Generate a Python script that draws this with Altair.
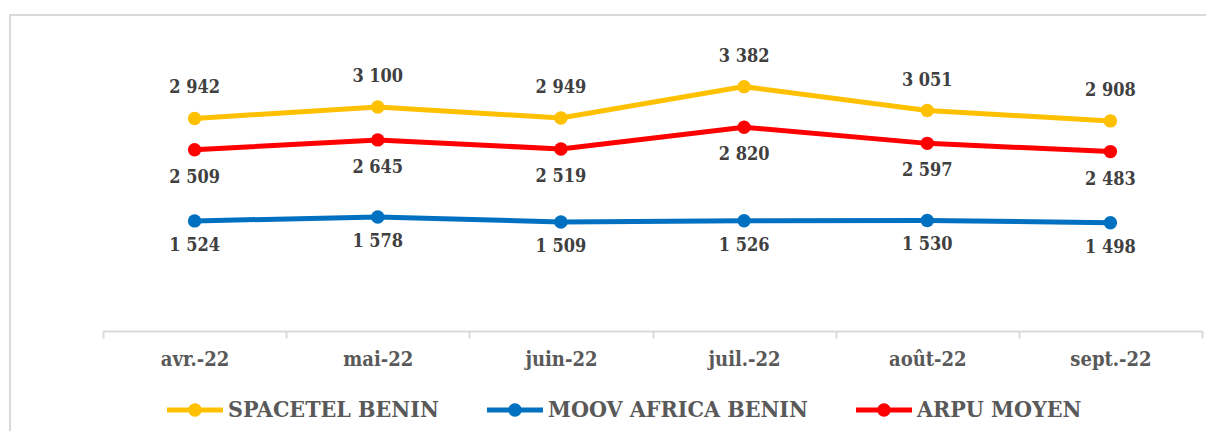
import altair as alt
import pandas as pd

months = ["avr.-22", "mai-22", "juin-22", "juil.-22", "août-22", "sept.-22"]
series = ["SPACETEL BENIN", "MOOV AFRICA BENIN", "ARPU MOYEN"]
spacetel = [2942, 3100, 2949, 3382, 3051, 2908]
moov = [1524, 1578, 1509, 1526, 1530, 1498]
arpu = [2509, 2645, 2519, 2820, 2597, 2483]
colors = ["#FFC000", "#0070C0", "#FF0000"]

rows = []
for name, vals in zip(series, [spacetel, moov, arpu]):
    for m, v in zip(months, vals):
        rows.append({"mois": m, "serie": name, "valeur": v,
                     "label": f"{v:,}".replace(",", " ")})
df = pd.DataFrame(rows)

FONT = "'DejaVu Serif Condensed', 'DejaVu Serif', serif"

x = alt.X("mois:N", sort=months,
          scale=alt.Scale(type="band", paddingInner=0, paddingOuter=0),
          bandPosition=0.5,
          axis=alt.Axis(title=None, labelAngle=0, tickBand="extent",
                        domainColor="#d9d9d9", domainWidth=2,
                        tickColor="#d9d9d9", tickWidth=2, tickSize=7,
                        labelFont=FONT, labelFontSize=20, labelFontWeight="bold",
                        labelColor="#595959", labelBaseline="middle",
                        labelPadding=21))
y = alt.Y("valeur:Q", scale=alt.Scale(domain=[0, 4000]), axis=None)

legend_path = ("M-1,-0.09 L1,-0.09 L1,0.09 L-1,0.09 Z "
               "M-0.24,0 A0.24,0.24 0 1,1 0.24,0 A0.24,0.24 0 1,1 -0.24,0 Z")
legend = alt.Legend(title=None, orient="none", direction="horizontal",
                    legendX=64, legendY=340,
                    symbolType=legend_path, symbolSize=3136,
                    symbolStrokeWidth=0, symbolOpacity=1,
                    labelFont=FONT, labelFontSize=23, labelFontWeight="bold",
                    labelColor="#595959", labelOffset=5, columnPadding=48,
                    labelLimit=400)
color = alt.Color("serie:N", scale=alt.Scale(domain=series, range=colors),
                  legend=legend)

base = alt.Chart(df).encode(x=x, y=y, color=color)

points = base.mark_point(filled=True, size=180, opacity=1, strokeWidth=0)
lines = base.mark_line(strokeWidth=5)

def labels(name, dy):
    return alt.Chart(df).transform_filter(alt.datum.serie == name).mark_text(
        font=FONT, fontSize=18, fontWeight="bold", color="#404040",
        baseline="middle", dy=dy
    ).encode(x=x, y=y, text="label:N")

border_top = alt.Chart(df).mark_rule(color="#d9d9d9", strokeWidth=2).encode(
    x=alt.value(-93), x2=alt.value(1110), y=alt.value(-27))
border_left = alt.Chart(df).mark_rule(color="#d9d9d9", strokeWidth=2).encode(
    x=alt.value(-93), y=alt.value(-28), y2=alt.value(400))

chart = alt.layer(
    points, lines,
    labels("SPACETEL BENIN", -30),
    labels("ARPU MOYEN", 28),
    labels("MOOV AFRICA BENIN", 25),
    border_top, border_left,
).properties(
    width=1099, height=289,
    autosize=alt.AutoSizeParams(type="none"),
    padding={"left": 95, "top": 34, "right": 4, "bottom": 100},
).configure_view(stroke=None)

chart.save("out.html", embed_options={"renderer": "svg", "actions": False})
